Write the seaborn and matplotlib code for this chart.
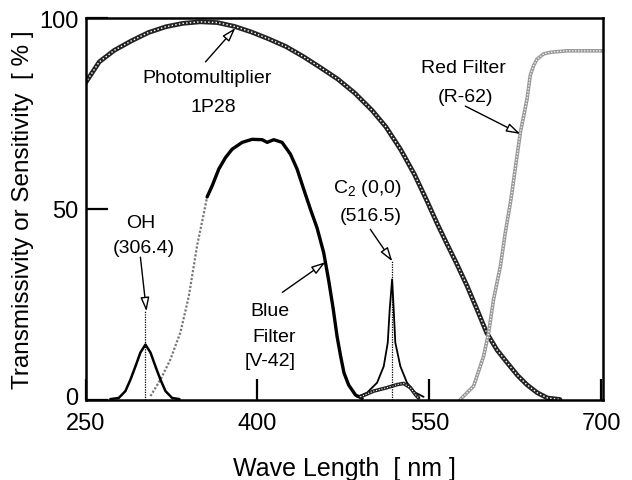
import numpy as np
import pandas as pd
import seaborn as sns
import matplotlib.pyplot as plt
import matplotlib.transforms as mtransforms

# Photomultiplier 1P28 sensitivity
pm_wl = [250, 262, 275, 290, 305, 320, 335, 350, 365, 380, 395, 410, 425, 440, 455,
         470, 485, 500, 512, 525, 537, 548, 557, 565, 574, 583, 592, 600, 609, 618,
         627, 635, 644, 653, 664]
pm_val = [83, 88.5, 91.5, 94, 96.2, 97.7, 98.6, 99, 98.8, 97.8, 96.3, 94.5, 92.5, 89.9, 87,
          84, 80.3, 75.8, 71.5, 65.5, 59, 52, 46, 41, 35.5, 29.7, 23.3, 17.5, 13, 9.6,
          6.3, 3.9, 1.8, 0.4, 0]

# Blue filter V-42 (lower dotted part + solid part)
blue_dot_wl = [306.7, 315.4, 324.1, 332.8, 340.1, 347.4, 352, 356.1]
blue_dot_val = [0.9, 5.2, 10.5, 17.6, 27, 40.4, 47, 53.1]
blue_wl = [356.1, 360.5, 366.3, 372.1, 377.9, 386.7, 395.4, 404.1, 408.5, 414.2, 421.5,
           428.8, 434.6, 440.4, 446.2, 452, 457.8, 462, 466, 469.5, 472.5, 475.5,
           479.6, 485.5, 491.3]
blue_val = [53.1, 56, 60.4, 63.4, 65.6, 67.4, 68.2, 68.1, 67.4, 68.1, 67.4,
            64.3, 60.4, 55.1, 49.9, 45, 38.5, 31.5, 24, 16.5, 11.5, 7,
            3.8, 1.2, 0.3]

# Red filter R-62
red_wl = [577, 588.6, 597.4, 601.7, 606, 612, 616.3, 621.2, 629.4, 635.2, 638,
          640.9, 643.9, 649.7, 655.5, 670, 701]
red_val = [0, 3.5, 11.4, 17.5, 26.2, 35, 43.8, 52.5, 70, 78.7, 84.9,
           87.5, 89.2, 90.6, 91, 91.4, 91.4]

# OH emission band
oh_wl = [271.7, 279, 284.8, 289.2, 293.6, 297.9, 302.3, 306.7, 311, 315.4, 319.8,
         325.6, 332]
oh_val = [0.1, 0.4, 2.2, 5.2, 8.7, 12.3, 14.4, 12.3, 8.7, 5.2, 2.2, 0.4, 0.1]

# C2 (0,0) emission band
c2_wl = [487, 495.7, 504.4, 510.2, 513.7, 515.4, 517.5, 518.9, 520.3, 524.7, 530.5,
         537.8, 545]
c2_val = [0.7, 1.8, 4.4, 8.7, 14.9, 23.6, 31.5, 23.6, 14.9, 8.7, 4.4, 1.8, 0.7]

# C2 band seen through the blue filter
c2f_wl = [489.8, 501.4, 513, 521.8, 527.5, 533.4, 537.8, 540.6]
c2f_val = [0.7, 2.2, 3.1, 3.9, 4.2, 3.1, 1.3, 0.4]

# peak markers
peak_wl = [302.3, 517.7]
peak_top = [23.1, 36.2]

xticks = [250, 400, 550, 700]
yticks = [0, 50, 100]

sns.set_theme(style="ticks")
plt.rcParams['font.family'] = ['Liberation Sans', 'DejaVu Sans']
plt.rcParams['mathtext.fontset'] = 'custom'
plt.rcParams['mathtext.rm'] = 'Liberation Sans'
plt.rcParams['mathtext.it'] = 'Liberation Sans'
plt.rcParams['text.color'] = 'black'
plt.rcParams['axes.labelcolor'] = 'black'

fig = plt.figure(figsize=(6.32, 4.81), dpi=100)
ax = fig.add_axes([85.5 / 632, 1 - 400.5 / 481, (603 - 85.5) / 632, (400.5 - 19) / 481])

def rope(wl, val, lw=3.4):
    # thick braided look of the scanned curves
    sns.lineplot(x=wl, y=val, ax=ax, color='#222222', lw=lw, sort=False)
    sns.lineplot(x=wl, y=val, ax=ax, color='white', lw=lw * 0.3,
                 linestyle=(0, (1, 1.6)), sort=False)

rope(pm_wl, pm_val)

sns.lineplot(x=red_wl, y=red_val, ax=ax, color='#9a9a9a', lw=2.6, sort=False)
sns.lineplot(x=red_wl, y=red_val, ax=ax, color='white', lw=0.9,
             linestyle=(0, (1, 1.4)), sort=False)

sns.lineplot(x=blue_dot_wl, y=blue_dot_val, ax=ax, color='#777777', lw=1.6,
             linestyle=(0, (1, 0.8)), sort=False)
sns.lineplot(x=blue_wl, y=blue_val, ax=ax, color='black', lw=2.4, sort=False)

sns.lineplot(x=oh_wl, y=oh_val, ax=ax, color='black', lw=1.8, sort=False)
sns.lineplot(x=c2_wl, y=c2_val, ax=ax, color='black', lw=1.3, sort=False)
rope(c2f_wl, c2f_val, lw=2.6)

ax.vlines(peak_wl, 0, peak_top, colors='black', lw=0.9, linestyles=(0, (1, 1)))

# annotations
arr = dict(arrowstyle='-|>,head_length=0.7,head_width=0.22', fc='white', ec='black',
           lw=1.0, shrinkA=0, shrinkB=0)
fs = 14
ax.annotate('', xy=(380.8, 97.4), xytext=(354.7, 88.5), arrowprops=arr)
ax.text(356.4, 84.5, 'Photomultiplier', ha='center', va='center', fontsize=fs)
ax.text(361.6, 76.9, '1P28', ha='center', va='center', fontsize=fs)
ax.annotate('', xy=(383.4, 74.6), xytext=(339.8, 74.6),
            arrowprops=dict(arrowstyle='-', lw=1.0, shrinkA=0, shrinkB=0))

ax.annotate('', xy=(629.4, 69.6), xytext=(581.4, 76.9), arrowprops=arr)
ax.text(579.6, 87.1, 'Red Filter', ha='center', va='center', fontsize=fs)
ax.text(581.4, 79.5, '(R-62)', ha='center', va='center', fontsize=fs)

ax.annotate('', xy=(517.7, 36.2), xytext=(498.5, 44.6), arrowprops=arr)
ax.text(495.7, 55.6, 'C$_2$ (0,0)', ha='center', va='center', fontsize=fs)
ax.text(498.5, 48.1, '(516.5)', ha='center', va='center', fontsize=fs)

ax.annotate('', xy=(303.2, 23.1), xytext=(297.9, 37.3), arrowprops=arr)
ax.text(297.9, 46.5, 'OH', ha='center', va='center', fontsize=fs)
ax.text(300.8, 39.8, '(306.4)', ha='center', va='center', fontsize=fs)

ax.annotate('', xy=(459.3, 36.0), xytext=(421.8, 28.1), arrowprops=arr)
ax.text(411.3, 23.2, 'Blue', ha='center', va='center', fontsize=fs)
ax.text(414.2, 16.6, 'Filter', ha='center', va='center', fontsize=fs)
ax.text(411.3, 10.1, '[V-42]', ha='center', va='center', fontsize=fs)

ax.set_xlim(250, 701.5)
ax.set_ylim(0, 100)
ax.set_xticks(xticks)
ax.set_yticks(yticks)
ax.tick_params(axis='x', direction='in', length=15, width=1.6, labelsize=17, pad=9,
               colors='black')
ax.tick_params(axis='y', direction='in', length=16, width=1.6, labelsize=17, pad=5,
               colors='black')
for s in ax.spines.values():
    s.set_linewidth(1.8)
    s.set_color('black')

# lift the "0" label a little so it clears "250"
zero_lbl = ax.yaxis.get_major_ticks()[0].label1
zero_lbl.set_transform(zero_lbl.get_transform()
                       + mtransforms.ScaledTranslation(0, 3 / 72, fig.dpi_scale_trans))

ax.set_xlabel('Wave Length  [ nm ]', fontsize=18, labelpad=16)
ax.set_ylabel('Transmissivity or Sensitivity  [ % ]', fontsize=17.5, labelpad=4)

fig.savefig('out.png', dpi=100)
